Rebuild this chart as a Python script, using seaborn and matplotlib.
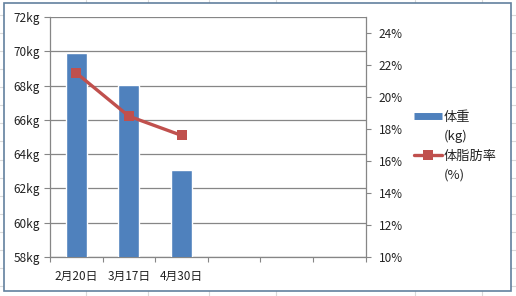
import numpy as np
import pandas as pd
import matplotlib
matplotlib.use("Agg")
import matplotlib.pyplot as plt
from matplotlib.lines import Line2D
from matplotlib.patches import Rectangle
from matplotlib.ticker import FuncFormatter
import seaborn as sns

# ---- data ----
dates = ["2月20日", "3月17日", "4月30日"]
weight_kg = [69.9, 68.05, 63.1]
body_fat_pct = [21.5, 18.8, 17.6]
n_slots = 6
weight_ticks = [58, 60, 62, 64, 66, 68, 70, 72]
fat_ticks = [10, 12, 14, 16, 18, 20, 22, 24]
legend_labels = ["体重", "(kg)", "体脂肪率", "(%)"]

sns.set_theme(style="white")
plt.rcParams["font.family"] = ["Noto Sans CJK JP", "DejaVu Sans"]

W, H = 516, 296
fig = plt.figure(figsize=(W / 100, H / 100), dpi=100)
fig.patch.set_facecolor("white")

def fx(x):
    return x / W

def fy(y):
    return 1 - y / H

# spreadsheet cell lines behind the chart
cell_col = "#D9D9D9"
for x in [86, 147.5, 208.5, 275.5, 414.5, 481.5]:
    fig.add_artist(Line2D([fx(x), fx(x)], [0, 1], transform=fig.transFigure,
                          color=cell_col, lw=0.8, zorder=-3))
for k in range(17):
    y = 15 + 18.07 * k
    fig.add_artist(Line2D([0, 1], [fy(y), fy(y)], transform=fig.transFigure,
                          color=cell_col, lw=0.8, zorder=-3))

# chart area
fig.add_artist(Rectangle((fx(4), fy(291)), fx(507), (291 - 3) / H,
                         transform=fig.transFigure, facecolor="white",
                         edgecolor="#62809E", lw=1.2, zorder=-2))

left, right, top, bottom = 50, 365.7, 17, 257
ax = fig.add_axes([fx(left), fy(bottom), fx(right - left), (bottom - top) / H])
ax.set_facecolor("none")

df = pd.DataFrame({"date": dates, "weight": weight_kg, "fat": body_fat_pct})
sns.barplot(data=df, x="date", y="weight", color="#4F81BD", saturation=1,
            width=0.4, ax=ax, zorder=3)

grid_col = "#868686"
ax.set_xlim(-0.5, n_slots - 0.5)
ax.set_ylim(weight_ticks[0], weight_ticks[-1])
ax.set_yticks(weight_ticks)
ax.set_yticklabels([f"{v}kg" for v in weight_ticks])
ax.set_xticks(range(len(dates)))
ax.set_xticklabels(dates)
ax.set_xticks(np.arange(-0.5, n_slots, 1.0), minor=True)
ax.set_xlabel("")
ax.set_ylabel("")
ax.yaxis.grid(True, color=grid_col, lw=0.9, zorder=0)
ax.set_axisbelow(True)
for s in ["top", "right"]:
    ax.spines[s].set_visible(False)
for s in ["left", "bottom"]:
    ax.spines[s].set_color(grid_col)
    ax.spines[s].set_linewidth(0.9)
ax.tick_params(axis="y", which="major", direction="out", length=4.5, width=0.8,
               color=grid_col, pad=3, labelsize=8.5, labelcolor="#222222", left=True)
ax.tick_params(axis="x", which="major", length=0, pad=9, labelsize=8.5,
               labelcolor="#222222")
ax.tick_params(axis="x", which="minor", direction="out", length=3.5, width=0.8,
               color=grid_col, bottom=True)

ax2 = ax.twinx()
ax2.set_facecolor("none")
sns.lineplot(x=np.arange(len(dates)), y=body_fat_pct, ax=ax2, color="#C0504D",
             lw=2.4, marker="s", markersize=7, markeredgewidth=0, zorder=5)
ax2.set_ylim(10, 25)
ax2.set_yticks(fat_ticks)
ax2.yaxis.set_major_formatter(FuncFormatter(lambda v, p: f"{v:.0f}%"))
ax2.set_xlim(-0.5, n_slots - 0.5)
for s in ["top", "left", "bottom"]:
    ax2.spines[s].set_visible(False)
ax2.spines["right"].set_color(grid_col)
ax2.spines["right"].set_linewidth(0.9)
ax2.tick_params(axis="y", direction="out", length=3.5, width=0.8, color=grid_col,
                pad=6, labelsize=8.5, labelcolor="#222222", right=True)
ax2.set_ylabel("")

handles = [
    Line2D([], [], color="#4F81BD", lw=5, solid_capstyle="butt"),
    Line2D([], [], color="none"),
    Line2D([], [], color="#C0504D", lw=2.4, marker="s", markersize=7,
           markeredgewidth=0),
    Line2D([], [], color="none"),
]
fig.legend(handles, legend_labels, loc="upper left",
           bbox_to_anchor=(fx(414), fy(111)), frameon=False, fontsize=9.5,
           handlelength=2.1, handletextpad=0.15, labelspacing=0.47,
           borderpad=0, borderaxespad=0)

fig.savefig("out.png", dpi=100)
